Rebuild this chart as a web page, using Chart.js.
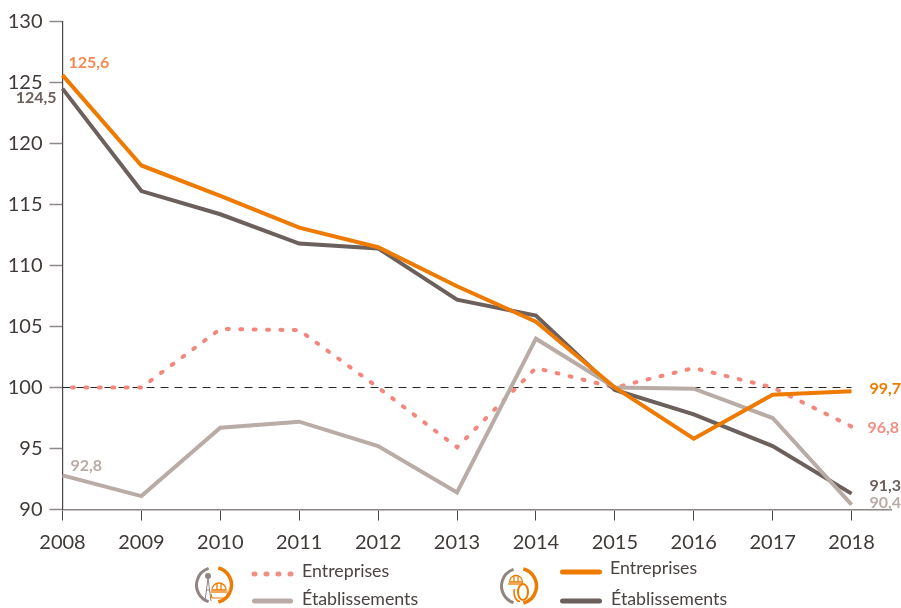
<!DOCTYPE html>
<html><head><meta charset="utf-8">
<script src="https://cdn.jsdelivr.net/npm/chart.js@4"></script>
<style>html,body{margin:0;padding:0;background:#fff;overflow:hidden}canvas{display:block}</style>
</head><body><div style="position:relative;width:901px;height:608px"><canvas id="c" width="901" height="608"></canvas></div>
<script>
const years=[2008,2009,2010,2011,2012,2013,2014,2015,2016,2017,2018];
const entreprisesDotted=[100,100,104.8,104.7,100,95.1,101.6,100,101.6,100,96.8];
const etablissementsLight=[92.8,91.1,96.7,97.2,95.2,91.4,104,100,99.9,97.5,90.4];
const entreprisesSolid=[125.6,118.2,115.7,113.1,111.5,108.3,105.4,100,95.8,99.4,99.7];
const etablissementsDark=[124.5,116.1,114.2,111.8,111.4,107.2,105.9,99.8,97.8,95.2,91.3];
const reference=[100,100,100,100,100,100,100,100,100,100,100];
const legendNames=['Entreprises','Établissements'];
const valueLabels=[
 {year:2008,value:125.6,text:'125,6',color:'#f58a52',dx:6,dy:-12,align:'left'},
 {year:2008,value:124.5,text:'124,5',color:'#6b605c',dx:-6,dy:9,align:'right'},
 {year:2008,value:92.8,text:'92,8',color:'#b9aca7',dx:8,dy:-9,align:'left'},
 {year:2018,value:99.7,text:'99,7',color:'#ee7a00',dx:18,dy:-2,align:'left'},
 {year:2018,value:96.8,text:'96,8',color:'#f28f84',dx:16,dy:1,align:'left'},
 {year:2018,value:91.3,text:'91,3',color:'#6b605c',dx:18,dy:-8,align:'left'},
 {year:2018,value:90.4,text:'90,4',color:'#b9aca7',dx:18,dy:-2,align:'left'}
];
const FONT='Lato, "Open Sans", sans-serif';
const toPts=a=>a.map((v,i)=>({x:years[i],y:v}));
function line(data,color,extra){return Object.assign({data:toPts(data),borderColor:color,borderWidth:4,pointRadius:0,tension:0,fill:false,clip:false,borderJoinStyle:'miter'},extra||{});}

function ring(ctx,x,y,r){
 ctx.lineCap='butt';
 ctx.lineWidth=3;
 ctx.strokeStyle='#8f8682';ctx.beginPath();ctx.arc(x,y,r,Math.PI*0.6,Math.PI*1.4);ctx.stroke();
 ctx.lineWidth=3.5;
 ctx.strokeStyle='#ee7a00';ctx.beginPath();ctx.arc(x,y,r,-Math.PI*0.42,Math.PI*0.42);ctx.stroke();
}
function helmet(ctx,x,y,s){
 ctx.strokeStyle='#ee7a00';ctx.lineWidth=1.3;
 ctx.beginPath();ctx.arc(x,y,s,Math.PI,0);ctx.closePath();ctx.stroke();
 ctx.beginPath();ctx.moveTo(x-s-1.5,y+2);ctx.lineTo(x+s+1.5,y+2);ctx.stroke();
 ctx.beginPath();ctx.moveTo(x-2,y);ctx.lineTo(x-2,y-s+1);ctx.moveTo(x+2,y);ctx.lineTo(x+2,y-s+1);ctx.stroke();
}
const decor={id:'decor',afterDatasetsDraw(chart){
 const ctx=chart.ctx,xs=chart.scales.x,ys=chart.scales.y;
 ctx.save();
 ctx.textBaseline='middle';
 ctx.font='bold 16px '+FONT;
 valueLabels.forEach(l=>{ctx.fillStyle=l.color;ctx.textAlign=l.align;
   ctx.fillText(l.text,xs.getPixelForValue(l.year)+l.dx,ys.getPixelForValue(l.value)+l.dy);});
 // legend
 ctx.font='17.8px '+FONT;ctx.fillStyle='#4a4341';ctx.textAlign='left';
 ctx.fillText(legendNames[0],302,571);ctx.fillText(legendNames[1],302,599);
 ctx.fillText(legendNames[0],610,568);ctx.fillText(legendNames[1],611,599);
 ctx.lineCap='round';ctx.lineWidth=5;
 ctx.strokeStyle='#f28f84';ctx.setLineDash([1,11]);ctx.beginPath();ctx.moveTo(254,574);ctx.lineTo(291,574);ctx.stroke();
 ctx.setLineDash([]);
 ctx.strokeStyle='#b9aca7';ctx.beginPath();ctx.moveTo(254.5,601);ctx.lineTo(290.5,601);ctx.stroke();
 ctx.strokeStyle='#ee7a00';ctx.beginPath();ctx.moveTo(562.5,572);ctx.lineTo(599.5,572);ctx.stroke();
 ctx.strokeStyle='#6b605c';ctx.beginPath();ctx.moveTo(562.5,601);ctx.lineTo(599.5,601);ctx.stroke();
 // icons
 ring(ctx,214,585,17.5);
 helmet(ctx,219,590,7);
 ctx.strokeStyle='#ee7a00';ctx.lineWidth=1.2;ctx.lineCap='butt';
 ctx.beginPath();ctx.moveTo(211,594);ctx.lineTo(212,598);ctx.lineTo(226,598);ctx.lineTo(228,593);ctx.stroke();
 ctx.strokeStyle='#8f8682';ctx.lineWidth=1;
 ctx.beginPath();ctx.moveTo(208,578);ctx.lineTo(205,601);ctx.moveTo(208,578);ctx.lineTo(211,601);ctx.moveTo(206,590);ctx.lineTo(210,590);ctx.stroke();
 ctx.fillStyle='#8f8682';ctx.beginPath();ctx.arc(208,576,3,0,Math.PI*2);ctx.fill();
 ring(ctx,519,586,17.5);
 helmet(ctx,516,582,6.5);
 ctx.strokeStyle='#ee7a00';ctx.lineWidth=2;
 ctx.beginPath();ctx.ellipse(523,592,5,8,0,0,Math.PI*2);ctx.stroke();
 ctx.lineWidth=1.6;ctx.beginPath();ctx.ellipse(520,592,6,9.5,0,Math.PI*0.5,Math.PI*1.1);ctx.stroke();
 ctx.restore();
}};
new Chart(document.getElementById('c'),{
 type:'line',
 data:{datasets:[
  line(reference,'#2a2625',{borderWidth:1,borderDash:[8,6],order:6}),
  line(entreprisesDotted,'#f4877b',{borderDash:[2,11.4],borderDashOffset:3.9,borderCapStyle:'round',order:5}),
  line(etablissementsDark,'#6b605c',{order:4}),
  line(etablissementsLight,'#b9aca7',{order:3}),
  line(entreprisesSolid,'#ee7a00',{order:2})
 ]},
 options:{
  responsive:false,animation:false,
  layout:{padding:{left:0,right:10,top:21.5,bottom:0}},
  plugins:{legend:{display:false},tooltip:{enabled:false}},
  scales:{
   x:{type:'linear',min:2008,max:2018.5,
    afterBuildTicks(s){s.ticks=years.map(v=>({value:v}));},
    afterFit(s){s.height=98.5;},
    grid:{drawOnChartArea:false,drawTicks:true,tickLength:11,tickColor:'#4a4543',tickWidth:1},
    border:{color:'#8a8583',width:1.5},
    ticks:{autoSkip:false,maxRotation:0,padding:10,color:'#3f3a38',font:{family:FONT,size:20},callback:v=>String(v)}},
   y:{type:'linear',min:90,max:130,
    afterFit(s){s.width=62.5;},
    grid:{drawOnChartArea:false,drawTicks:true,tickLength:13,tickColor:'#8e8a88',tickWidth:1.5},
    border:{color:'#4a4543',width:1.2},
    ticks:{stepSize:5,padding:7,color:'#3f3a38',font:{family:FONT,size:20},callback:v=>String(v)}}
  }
 },
 plugins:[decor]
});
</script></body></html>
